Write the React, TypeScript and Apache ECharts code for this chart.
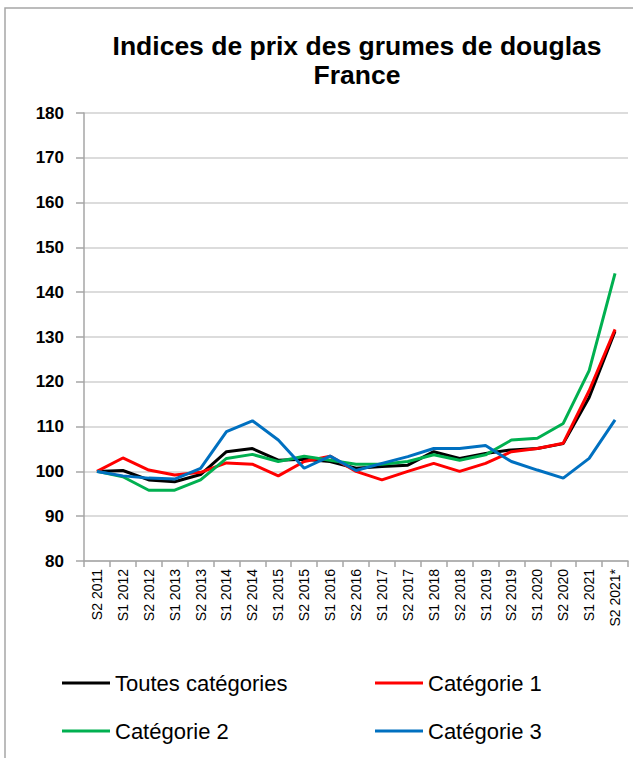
import React, { useEffect, useRef } from "react";
import * as echarts from "echarts";

const categories = [
  "S2 2011", "S1 2012", "S2 2012", "S1 2013", "S2 2013", "S1 2014", "S2 2014",
  "S1 2015", "S2 2015", "S1 2016", "S2 2016", "S1 2017", "S2 2017", "S1 2018",
  "S2 2018", "S1 2019", "S2 2019", "S1 2020", "S2 2020", "S1 2021", "S2 2021*",
];

const toutes = [100, 100.2, 98.1, 97.7, 99.3, 104.4, 105.1, 102.5, 102.7, 102.2, 100.7, 101.1, 101.4, 104.4, 102.9, 104, 104.8, 105.1, 106.2, 116.5, 131.3];
const cat1 = [100, 103, 100.3, 99.2, 99.8, 101.9, 101.6, 99.0, 102.2, 103.4, 100, 98.1, 100, 101.8, 100, 101.8, 104.4, 105.1, 106.3, 118, 131.7];
const cat2 = [100, 98.8, 95.8, 95.8, 98.1, 102.9, 103.8, 102.2, 103.4, 102.5, 101.6, 101.6, 102.2, 103.7, 102.5, 103.7, 107, 107.4, 110.7, 122.5, 144.2];
const cat3 = [100, 99, 98.5, 98.3, 100.7, 108.9, 111.3, 107, 100.7, 103.4, 100.2, 101.8, 103.3, 105.1, 105.1, 105.8, 102.2, 100.3, 98.5, 102.9, 111.5];

const seriesNames = ["Toutes catégories", "Catégorie 1", "Catégorie 2", "Catégorie 3"];
const seriesColors = ["#000000", "#ff0000", "#00b050", "#0070c0"];
const seriesData = [toutes, cat1, cat2, cat3];

const titleLines = ["Indices de prix des grumes de douglas", "France"];

export default function App() {
  const ref = useRef<HTMLDivElement>(null);
  useEffect(() => {
    if (!ref.current) return;
    const chart = echarts.init(ref.current, null, { renderer: "svg" });
    const legendPos = [
      { left: 62, top: 672 },
      { left: 375, top: 672 },
      { left: 62, top: 720 },
      { left: 375, top: 720 },
    ];
    chart.setOption({
      animation: false,
      backgroundColor: "#ffffff",
      graphic: [
        {
          type: "rect",
          z: -10,
          shape: { x: 5, y: 8, width: 700, height: 800 },
          style: { fill: "none", stroke: "#a6a6a6", lineWidth: 1.5 },
        },
        {
          type: "text",
          x: 357,
          y: 46,
          style: {
            text: titleLines[0],
            textAlign: "center",
            textVerticalAlign: "middle",
            font: "bold 26.5px 'Liberation Sans', Arial, sans-serif",
            fill: "#000",
          },
        },
        {
          type: "text",
          x: 357,
          y: 75,
          style: {
            text: titleLines[1],
            textAlign: "center",
            textVerticalAlign: "middle",
            font: "bold 26.5px 'Liberation Sans', Arial, sans-serif",
            fill: "#000",
          },
        },
      ],
      legend: seriesNames.map((n, i) => ({
        data: [n],
        left: legendPos[i].left,
        top: legendPos[i].top,
        padding: 0,
        icon: "rect",
        itemWidth: 48,
        itemHeight: 3,
        selectedMode: false,
        textStyle: {
          fontFamily: "'Liberation Sans', Arial, sans-serif",
          fontSize: 22,
          color: "#000",
          lineHeight: 22,
        },
      })),
      grid: { left: 84, right: 5, top: 113, bottom: 197, containLabel: false },
      xAxis: {
        type: "category",
        data: categories,
        boundaryGap: true,
        axisLine: { lineStyle: { color: "#a6a6a6", width: 1.5 } },
        axisTick: { show: true, length: 6, interval: 0, lineStyle: { color: "#a6a6a6", width: 1.5 } },
        axisLabel: {
          interval: 0,
          rotate: 90,
          margin: 8,
          fontSize: 14,
          color: "#000",
          fontFamily: "'Liberation Sans', Arial, sans-serif",
        },
      },
      yAxis: {
        type: "value",
        min: 80,
        max: 180,
        interval: 10,
        axisLine: { show: true, lineStyle: { color: "#a6a6a6", width: 1.5 } },
        axisTick: { show: true, length: 8, lineStyle: { color: "#a6a6a6", width: 1.5 } },
        splitLine: { lineStyle: { color: "#d0d0d0", width: 1.5 } },
        axisLabel: {
          margin: 20,
          fontSize: 17,
          fontWeight: "bold",
          color: "#000",
          fontFamily: "'Liberation Sans', Arial, sans-serif",
        },
      },
      series: seriesNames.map((n, i) => ({
        name: n,
        type: "line",
        data: seriesData[i],
        symbol: "none",
        lineStyle: { color: seriesColors[i], width: 3 },
        itemStyle: { color: seriesColors[i] },
      })),
    });
    return () => chart.dispose();
  }, []);
  return (
    <div
      ref={ref}
      style={{ position: "absolute", left: 0, top: 0, width: 633, height: 758 }}
    />
  );
}
